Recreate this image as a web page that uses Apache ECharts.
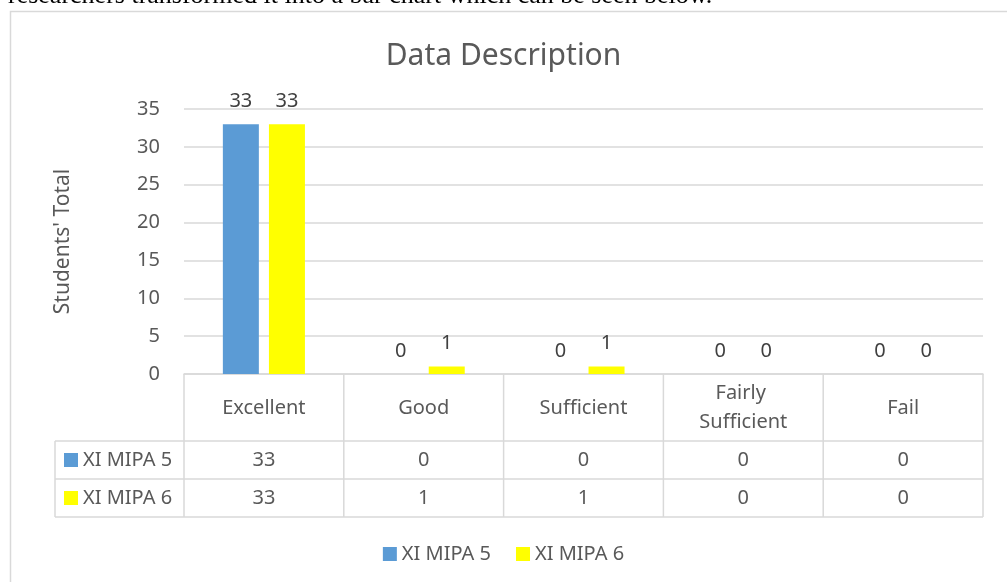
<!DOCTYPE html>
<html>
<head>
<meta charset="utf-8">
<script src="https://cdn.jsdelivr.net/npm/echarts@6/dist/echarts.min.js"></script>
<style>
  html, body { margin: 0; padding: 0; background: #fff; }
  #chart { width: 1007px; height: 582px; }
</style>
</head>
<body>
<div id="chart"></div>
<script>
// chart data
const categories = ['Excellent', 'Good', 'Sufficient', 'Fairly Sufficient', 'Fail']
const seriesNames = ['XI MIPA 5', 'XI MIPA 6']
const mipa5 = [33, 0, 0, 0, 0]
const mipa6 = [33, 1, 1, 0, 0]
const seriesColors = ['#5B9BD5', '#FFFF00']
const yTicks = [0, 5, 10, 15, 20, 25, 30, 35]
const captionText = 'researchers transformed it into a bar chart which can be seen below.'

const font = '"Noto Sans", sans-serif'
const textColor = '#595959'
const lineColor = '#D9D9D9'

const chart = echarts.init(document.getElementById('chart'))

const seriesData = [mipa5, mipa6]

chart.setOption({
  animation: false,
  backgroundColor: '#fff',
  textStyle: { fontFamily: font, color: textColor },
  title: {
    text: 'Data Description',
    left: 'center',
    top: 36,
    textStyle: { fontFamily: font, fontSize: 30, fontWeight: 'normal', color: textColor },
  },
  grid: { left: 184, right: 24, top: 109, bottom: 208, containLabel: false },
  legend: {
    bottom: 13,
    left: 'center',
    icon: 'rect',
    itemWidth: 14,
    itemHeight: 14,
    itemGap: 25,
    textStyle: { fontFamily: font, fontSize: 20, color: textColor },
    data: seriesNames,
  },
  xAxis: {
    type: 'category',
    data: categories,
    axisLine: { show: true, lineStyle: { color: lineColor, width: 1.5 } },
    axisTick: { show: false },
    axisLabel: {
      interval: 0,
      margin: 34,
      color: textColor,
      fontFamily: font,
      fontSize: 20,
      lineHeight: 29,
      verticalAlign: 'middle',
      width: 120,
      overflow: 'break',
    },
  },
  yAxis: {
    type: 'value',
    min: yTicks[0],
    max: yTicks[yTicks.length - 1],
    interval: 5,
    name: "Students' Total",
    nameLocation: 'middle',
    nameGap: 110,
    nameTextStyle: { fontFamily: font, fontSize: 21, color: textColor },
    axisLine: { show: false },
    axisTick: { show: false },
    axisLabel: { margin: 24, color: textColor, fontFamily: font, fontSize: 20 },
    splitLine: { lineStyle: { color: lineColor, width: 1.5 } },
  },
  series: seriesNames.map((name, i) => ({
    name,
    type: 'bar',
    data: seriesData[i],
    barWidth: 36,
    barGap: '28%',
    itemStyle: { color: seriesColors[i] },
    label: {
      show: true,
      position: 'top',
      distance: 13,
      color: '#404040',
      fontFamily: font,
      fontSize: 20,
    },
  })),
})

// data table below the plot, placed with the axis scale
function drawTable() {
  const centers = categories.map((c, i) => chart.convertToPixel({ xAxisIndex: 0 }, i))
  const colW = centers.length > 1 ? centers[1] - centers[0] : 160
  const x0 = centers[0] - colW / 2
  const x1 = centers[centers.length - 1] + colW / 2
  const yAxisPx = chart.convertToPixel({ yAxisIndex: 0 }, 0)
  const headerBottom = yAxisPx + 67
  const rowH = 38
  const tableLeft = 55
  const tableBottom = headerBottom + rowH * seriesNames.length

  const els = []
  const line = (ax, ay, bx, by) => els.push({
    type: 'line',
    shape: { x1: ax, y1: ay, x2: bx, y2: by },
    style: { stroke: lineColor, lineWidth: 1.5 },
    silent: true,
  })

  // horizontal rules
  for (let r = 0; r <= seriesNames.length; r++) {
    line(tableLeft, headerBottom + r * rowH, x1, headerBottom + r * rowH)
  }
  // vertical rules
  line(tableLeft, headerBottom, tableLeft, tableBottom)
  for (let c = 0; c <= categories.length; c++) {
    line(x0 + c * colW, yAxisPx, x0 + c * colW, tableBottom)
  }

  seriesNames.forEach((name, r) => {
    const cy = headerBottom + r * rowH + rowH / 2
    els.push({
      type: 'rect',
      shape: { x: 64, y: cy - 7, width: 14, height: 14 },
      style: { fill: seriesColors[r] },
      silent: true,
    })
    els.push({
      type: 'text',
      x: 83,
      y: cy,
      style: { text: name, font: '20px ' + font, fill: textColor, verticalAlign: 'middle' },
      silent: true,
    })
    seriesData[r].forEach((v, c) => {
      els.push({
        type: 'text',
        x: centers[c],
        y: cy,
        style: { text: String(v), font: '20px ' + font, fill: textColor, align: 'center', verticalAlign: 'middle' },
        silent: true,
      })
    })
  })

  // page caption cut off at the top, and the chart frame
  els.push({
    type: 'text',
    x: 8,
    y: -4,
    style: { text: captionText, font: '26px "Liberation Serif", serif', fill: '#000', verticalAlign: 'middle' },
    silent: true,
  })
  els.push({
    type: 'rect',
    shape: { x: 10.5, y: 11.5, width: 1100, height: 700 },
    style: { fill: null, stroke: lineColor, lineWidth: 1.5 },
    silent: true,
  })

  chart.setOption({ graphic: { elements: els } })
}

drawTable()
</script>
</body>
</html>
